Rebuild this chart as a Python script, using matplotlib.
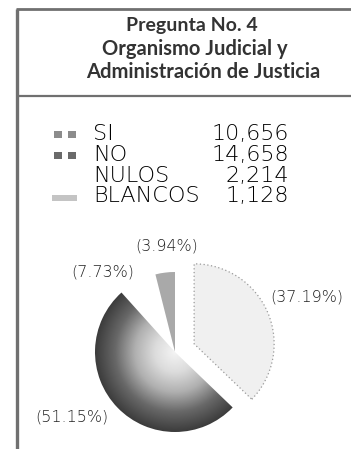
import numpy as np
import matplotlib

matplotlib.use("Agg")
import matplotlib.pyplot as plt
from matplotlib.colors import LinearSegmentedColormap
from matplotlib.patches import Rectangle

# Vote counts, question 4
TITLE = ["Pregunta No. 4", "Organismo Judicial y", "Administración de Justicia"]
CATEGORIES = ["SI", "NO", "NULOS", "BLANCOS"]
VOTES = [10656, 14658, 2214, 1128]

W, H = 351, 449
FRAME_COLOR = "#707070"
SLICE_COLORS = ["#f0f0f0", "#777777", "white", "#a9a9a9"]
SWATCH_COLORS = ["#8c8c8c", "#6a6a6a", None, "#c4c4c4"]
EXPLODE = [0.26, 0, 0, 0]

# pie centre / radius in pixels, label spots in pie units
PIE_CX, PIE_CY, PIE_R = 175, 352, 80
LABEL_POS = [(1.65, 0.69), (-1.29, -0.81), (-0.91, 1.0), (-0.10, 1.325)]

fig = plt.figure(figsize=(W / 100, H / 100), dpi=100)
fig.patch.set_facecolor("white")

# pixel-space overlay for frame, heading and legend
ov = fig.add_axes([0, 0, 1, 1])
ov.set_xlim(0, W)
ov.set_ylim(H, 0)
ov.axis("off")

ov.plot([17, 17], [9, H], color=FRAME_COLOR, lw=2.4, solid_capstyle="butt")
ov.plot([16, W], [9, 9], color=FRAME_COLOR, lw=2.0, solid_capstyle="butt")
ov.plot([16, W], [96, 96], color=FRAME_COLOR, lw=1.6, solid_capstyle="butt")

title_spots = [(192, 25, 14), (195, 49, 14.5), (203, 72, 14.5)]
for text, (x, y, size) in zip(TITLE, title_spots):
    ov.text(x, y, text, ha="center", va="center", fontsize=size,
            family="Lato", weight="bold", color="#333333")

row_y = [134, 155, 176, 196]
for name, n, y, sw in zip(CATEGORIES, VOTES, row_y, SWATCH_COLORS):
    ov.text(93, y, name, ha="left", va="center", fontsize=16,
            family="DejaVu Sans", weight="light", color="black")
    ov.text(289, y, f"{n:,}", ha="right", va="center", fontsize=16,
            family="DejaVu Sans", weight="light", color="black")
    if sw is None:
        continue
    if name == "BLANCOS":
        ov.add_patch(Rectangle((52, y - 1), 25, 6, color=sw, lw=0))
    else:
        ov.add_patch(Rectangle((54, y - 3), 8, 7, color=sw, lw=0))
        ov.add_patch(Rectangle((68, y - 3), 8, 7, color=sw, lw=0))

# pie axes, sized so one data unit = PIE_R pixels both ways
xl, xr, yb, yt = -1.6, 1.6, -1.2, 1.6
ax = fig.add_axes([(PIE_CX + xl * PIE_R) / W, (H - PIE_CY + yb * PIE_R) / H,
                   (xr - xl) * PIE_R / W, (yt - yb) * PIE_R / H])

wedges, _ = ax.pie(VOTES, startangle=90, counterclock=False, explode=EXPLODE,
                   colors=SLICE_COLORS, radius=1,
                   wedgeprops=dict(linewidth=0))
wedges[0].set_edgecolor("#9a9a9a")
wedges[0].set_linestyle((0, (1, 2)))
wedges[0].set_linewidth(0.9)

# radial shading on the NO slice
shade = LinearSegmentedColormap.from_list(
    "no_shade", ["#f4f4f4", "#dcdcdc", "#b0b0b0", "#686868", "#3c3c3c"])
grid = np.linspace(-1.05, 1.05, 400)
gx, gy = np.meshgrid(grid, grid)
img = ax.imshow(np.hypot(gx, gy), cmap=shade, vmin=0, vmax=1,
                extent=(-1.05, 1.05, -1.05, 1.05), origin="lower",
                interpolation="bilinear", zorder=wedges[1].get_zorder() + 0.1)
img.set_clip_path(wedges[1])
wedges[1].set_facecolor("none")

total = sum(VOTES)
for v, (lx, ly) in zip(VOTES, LABEL_POS):
    ax.text(lx, ly, f"({v / total * 100:.2f}%)", ha="center", va="center",
            fontsize=11.5, family="DejaVu Sans", weight="light",
            color="#222222")

ax.set_xlim(xl, xr)
ax.set_ylim(yb, yt)
ax.set_aspect("auto")
ax.axis("off")

fig.savefig("out.png", dpi=100, facecolor="white")
